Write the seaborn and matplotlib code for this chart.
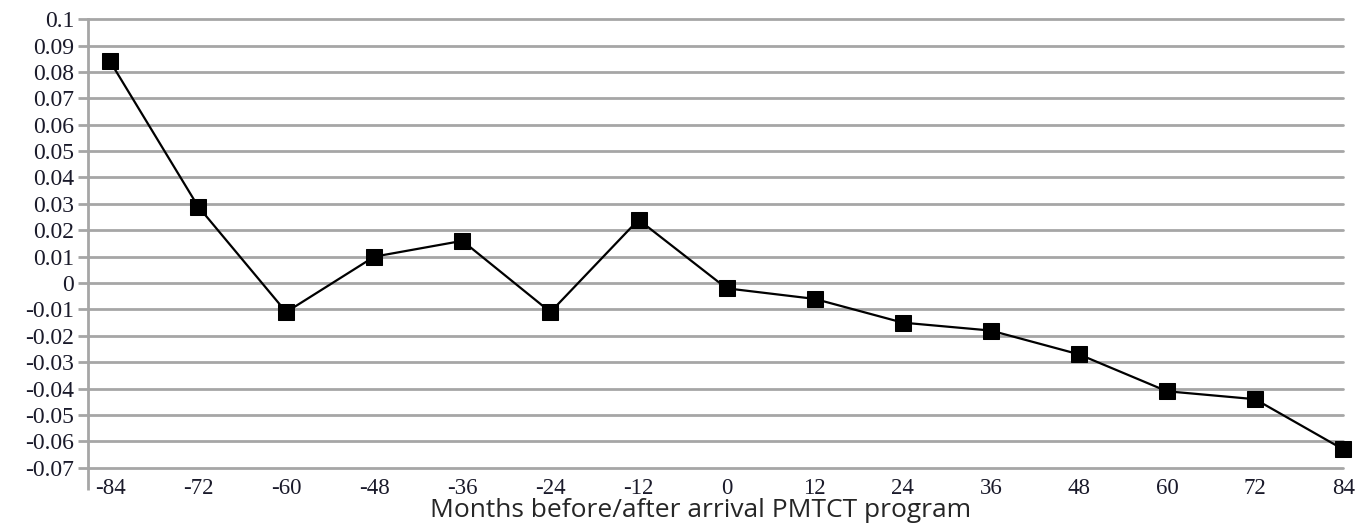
import numpy as np
import pandas as pd
import seaborn as sns
import matplotlib.pyplot as plt

# Values
months = [-84, -72, -60, -48, -36, -24, -12, 0, 12, 24, 36, 48, 60, 72, 84]
effect = [0.084, 0.029, -0.011, 0.010, 0.016, -0.011, 0.024, -0.002,
          -0.006, -0.015, -0.018, -0.027, -0.041, -0.044, -0.063]
yticks = [round(v, 2) for v in np.arange(-0.07, 0.1001, 0.01)]
ytick_labels = ['0.1' if abs(v - 0.1) < 1e-9 else ('0' if v == 0 else f'{v:.2f}') for v in yticks]

df = pd.DataFrame({'month': months, 'effect': effect})

sns.set_style('white')
fig = plt.figure(figsize=(13.65, 5.31), dpi=100)
ax = fig.add_axes([0.0645, 0.119, 0.9195, 0.845])

grid_col = '#a6a6a6'
for v in yticks:
    ax.axhline(v, color=grid_col, lw=2, zorder=1)

sns.lineplot(data=df, x='month', y='effect', ax=ax, color='black', lw=1.6,
             marker='s', markersize=11, markeredgecolor='black', zorder=3)
for ln in ax.lines:
    ln.set_clip_on(False)

ax.set_xlim(-87, 84)
ax.set_ylim(-0.07, 0.1)
ax.set_xticks(months)
ax.set_xticklabels([str(m) for m in months], family='Liberation Serif', fontsize=16.5, color='#1a1a2a')
ax.set_yticks(yticks)
ax.set_yticklabels(ytick_labels, family='Liberation Serif', fontsize=17, color='#1a1a2a')
ax.tick_params(axis='y', length=7, width=2, color=grid_col, pad=3, left=True)
ax.tick_params(axis='x', length=0, pad=7)
ax.set_xticks([-87], minor=True)
ax.tick_params(axis='x', which='minor', length=16, width=2, color=grid_col, bottom=True)

for s in ['top', 'right', 'bottom']:
    ax.spines[s].set_visible(False)
ax.spines['left'].set_color(grid_col)
ax.spines['left'].set_linewidth(2)

ax.set_xlabel('Months before/after arrival PMTCT program', family='Open Sans', fontsize=19)
ax.xaxis.set_label_coords(0.488, -0.068)
ax.set_ylabel('')

fig.savefig('out.png', dpi=100)
